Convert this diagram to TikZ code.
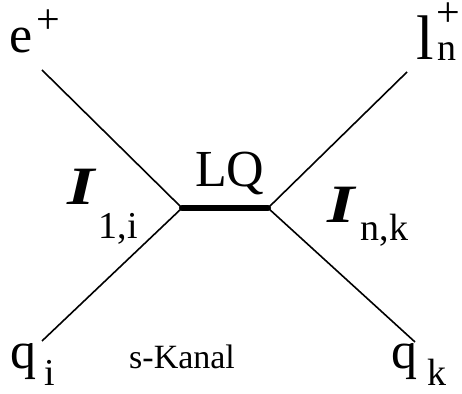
\documentclass[tikz,border=0pt]{standalone}
\usepackage{fontspec}
\usepackage{graphicx}
\setmainfont{Liberation Serif}
\newcommand{\subsz}{\normalfont\fontsize{38}{44}\selectfont}
\newcommand{\plussz}{\normalfont\fontsize{42}{48}\selectfont}
% superscript / subscript pieces with no size of their own
\newcommand{\hisup}[2]{\raisebox{#1}[0pt][0pt]{\plussz #2}}
\newcommand{\losub}[2]{\raisebox{#1}[0pt][0pt]{\subsz #2}}
\tikzset{
  leg/.style={line width=1.6pt},
  prop/.style={line width=6pt, line cap=round},
  lbl/.style={inner sep=0pt, anchor=base west},
  big/.style={font=\fontsize{52}{60}\selectfont},
  huge/.style={font=\fontsize{63}{72}\selectfont},
  cpl/.style={font=\fontsize{54}{64}\selectfont\bfseries\itshape},
  note/.style={font=\fontsize{34}{40}\selectfont},
}
\begin{document}
\begin{tikzpicture}[x=1pt,y=1pt]
\useasboundingbox (0,0) rectangle (462,393);
% vertices and external ends
\coordinate (vL) at (182,185);
\coordinate (vR) at (268,185);
\coordinate (eplus) at (42,323);
\coordinate (lplus) at (407,321);
\coordinate (qi) at (42,52);
\coordinate (qk) at (415,51);
\draw[leg] (eplus) -- (vL);
\draw[leg] (qi) -- (vL);
\draw[leg] (vR) -- (lplus);
\draw[leg] (vR) -- (qk);
\draw[prop] (vL) -- (vR);
% labels
\node[lbl,big] (e) at (9,340) {e\hspace{4pt}\hisup{19pt}{+}};
\node[lbl,huge] (l) at (416,333)
  {l\rlap{\hspace{4pt}\losub{-1pt}{n}}\hspace{3pt}\hisup{33pt}{+}};
\node[lbl,big] (LQ) at (195,206) {LQ};
\node[lbl,cpl] (I1) at (67,188)
  {\scalebox{1.3}[1]{I}\hspace{4pt}\losub{-34pt}{1,i}};
\node[lbl,cpl] (I2) at (327,170)
  {\scalebox{1.3}[1]{I}\hspace{6pt}\losub{-18pt}{n,k}};
\node[lbl,big] (q1) at (10,25) {q\hspace{8pt}\losub{-17pt}{i}};
\node[lbl,big] (q2) at (391,25) {q\hspace{10pt}\losub{-17pt}{k}};
\node[lbl,note] (kanal) at (129,25) {s-Kanal};
\end{tikzpicture}
\end{document}
